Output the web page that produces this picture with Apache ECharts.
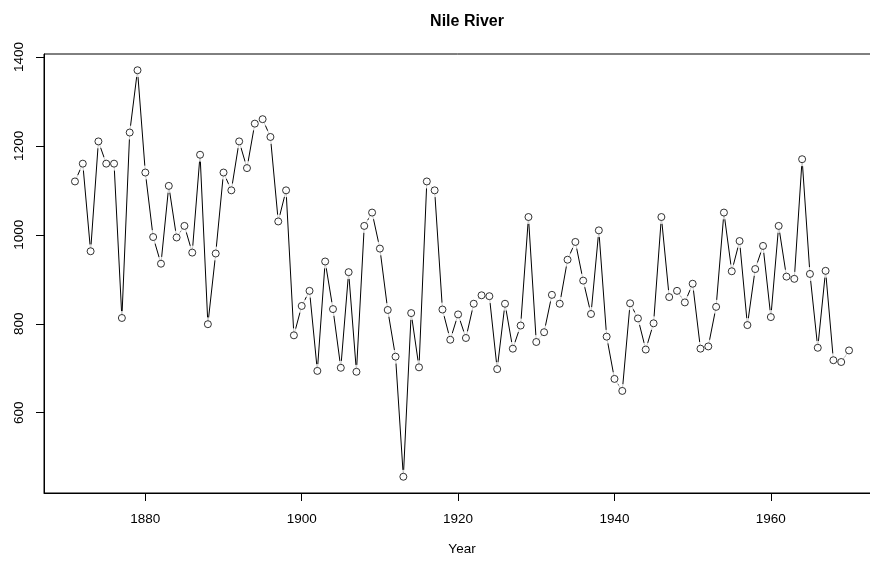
<!DOCTYPE html>
<html>
<head>
<meta charset="utf-8">
<script src="https://cdn.jsdelivr.net/npm/echarts@6/dist/echarts.min.js"></script>
<style>html,body{margin:0;padding:0;background:#fff;}#c{width:870px;height:561px;}</style>
</head>
<body>
<div id="c"></div>
<script>
const years = [1871,1872,1873,1874,1875,1876,1877,1878,1879,1880,
1881,1882,1883,1884,1885,1886,1887,1888,1889,1890,
1891,1892,1893,1894,1895,1896,1897,1898,1899,1900,
1901,1902,1903,1904,1905,1906,1907,1908,1909,1910,
1911,1912,1913,1914,1915,1916,1917,1918,1919,1920,
1921,1922,1923,1924,1925,1926,1927,1928,1929,1930,
1931,1932,1933,1934,1935,1936,1937,1938,1939,1940,
1941,1942,1943,1944,1945,1946,1947,1948,1949,1950,
1951,1952,1953,1954,1955,1956,1957,1958,1959,1960,
1961,1962,1963,1964,1965,1966,1967,1968,1969,1970];
const flow = [1120,1160,963,1210,1160,1160,813,1230,1370,1140,
995,935,1110,994,1020,960,1180,799,958,1140,
1100,1210,1150,1250,1260,1220,1030,1100,774,840,
874,694,940,833,701,916,692,1020,1050,969,
831,726,456,824,702,1120,1100,832,764,821,
768,845,864,862,698,845,744,796,1040,759,
781,865,845,944,984,897,822,1010,771,676,
649,846,812,742,801,1040,860,874,848,890,
744,749,838,1050,918,986,797,923,975,815,
1020,906,901,1170,912,746,919,718,714,740];
const xTicks = [1880,1900,1920,1940,1960];
const yTicks = [600,800,1000,1200,1400];
const title = 'Nile River';
const xName = 'Year';

const pts = years.map((y,i)=>[y, flow[i]]);
const xmin = 1871 - 0.04*(1970-1871), xmax = 1970 + 0.04*(1970-1871);
const fmin = Math.min(...flow), fmax = Math.max(...flow);
const ymin = fmin - 0.04*(fmax-fmin), ymax = fmax + 0.04*(fmax-fmin);

const FONT = 'Liberation Sans, Arial, Helvetica, sans-serif';
const chart = echarts.init(document.getElementById('c'), null, {renderer:'canvas'});
chart.setOption({
  animation:false,
  backgroundColor:'#fff',
  title:{text:title, left:462, top:9, textAlign:'center',
    textStyle:{fontFamily:FONT, fontSize:16, fontWeight:'bold', color:'#000'}},
  grid:{left:44, width:836, top:54, bottom:68, containLabel:false, outerBoundsMode:'none',
    show:true, borderColor:'#000', borderWidth:1, backgroundColor:'transparent'},
  xAxis:{type:'value', min:xmin, max:xmax,
    name:xName, nameLocation:'middle', nameGap:49,
    nameTextStyle:{fontFamily:FONT, fontSize:13.5, color:'#000'},
    axisLine:{show:true, lineStyle:{color:'#000', width:1}},
    axisTick:{show:true, length:8, customValues:xTicks, lineStyle:{color:'#000'}},
    axisLabel:{customValues:xTicks, margin:19, fontFamily:FONT, fontSize:13.5, color:'#000', formatter:v=>String(v)},
    splitLine:{show:false}},
  yAxis:{type:'value', min:ymin, max:ymax,
    axisLine:{show:true, lineStyle:{color:'#000', width:1}},
    axisTick:{show:true, length:8, customValues:yTicks, lineStyle:{color:'#000'}},
    axisLabel:{customValues:yTicks, rotate:90, margin:18, fontFamily:FONT, fontSize:13.5, color:'#000', formatter:v=>String(v)},
    splitLine:{show:false}},
  series:[
    {type:'line', data:pts, symbol:'none', z:2, lineStyle:{color:'#000', width:1}, silent:true},
    {type:'scatter', data:pts, symbol:'circle', symbolSize:14, z:3, itemStyle:{color:'#fff', borderWidth:0}, silent:true},
    {type:'scatter', data:pts, symbol:'circle', symbolSize:7, z:4, itemStyle:{color:'#fff', borderColor:'#000', borderWidth:1}, silent:true}
  ]
});
</script>
</body>
</html>
